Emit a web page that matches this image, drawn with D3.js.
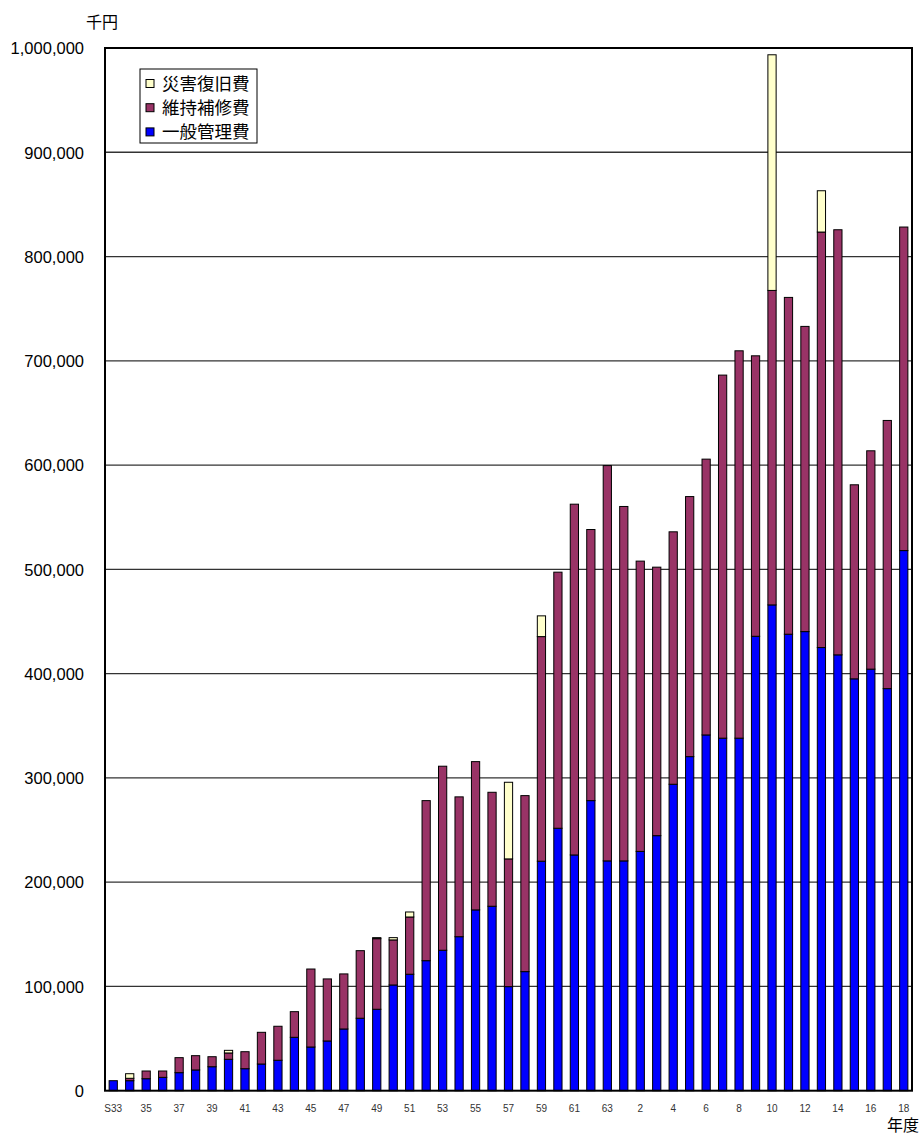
<!DOCTYPE html>
<html>
<head>
<meta charset="utf-8">
<script src="https://cdn.jsdelivr.net/npm/d3@7"></script>
<style>
  body { margin: 0; background: #fff; }
  svg { display: block; }
  .ylab { font-family: "Liberation Sans", Arial, sans-serif; font-size: 16.5px; fill: #000; }
  .xlab { font-family: "Liberation Sans", Arial, sans-serif; font-size: 10px; fill: #333; }
  .jp { font-family: "Noto Sans CJK JP", sans-serif; font-size: 16px; fill: #000; }
</style>
</head>
<body>
<svg id="chart" width="921" height="1135"></svg>
<script>
// 年度 (S33 ～ H18)
const years = ["S33","34","35","36","37","38","39","40","41","42","43","44","45","46","47","48","49","50",
  "51","52","53","54","55","56","57","58","59","60","61","62","63",
  "1","2","3","4","5","6","7","8","9","10","11","12","13","14","15","16","17","18"];

// 一般管理費 (千円)
const general = [9600,9600,11500,12800,17300,19900,23000,30100,21100,25600,29200,51200,41900,47700,59200,69500,78100,101400,
  111700,124700,134700,147700,173400,176900,99800,114200,220100,251700,226100,278200,220400,
  220400,229500,244600,293900,320400,341200,338100,338100,435800,465900,437800,440300,425000,418000,395000,404300,385600,518000];

// 維持補修費 (千円)
const maintenance = [0,2300,7400,6100,14400,13700,9600,6100,16300,30400,32600,24600,74800,59500,52800,64800,67700,43200,
  54900,153500,176500,134100,142200,109300,122500,168800,215400,245600,336400,260000,379100,
  339900,278400,257500,242100,249400,264500,348200,371500,269000,301600,323000,292700,398500,407700,186100,209400,257200,310300];

// 災害復旧費 (千円)
const disaster = [0,4400,0,0,0,0,0,2500,0,0,0,0,0,0,0,0,1000,2200,
  4800,0,0,0,0,0,73500,0,19900,0,0,0,0,
  0,0,0,0,0,0,0,0,0,226000,0,0,39600,0,0,0,0,0];

const seriesKeys = ["general", "maintenance", "disaster"];
const seriesNames = { general: "一般管理費", maintenance: "維持補修費", disaster: "災害復旧費" };
const colors = { general: "#0000ff", maintenance: "#993366", disaster: "#ffffcc" };
const yTicks = d3.range(0, 1000001, 100000);

const svg = d3.select("#chart");
const plot = { left: 105, right: 912, top: 48, bottom: 1090.7 };

const rows = years.map((y, i) => ({
  year: y,
  general: general[i],
  maintenance: maintenance[i],
  disaster: disaster[i]
}));

const x = d3.scaleBand()
  .domain(years)
  .range([plot.left, plot.right])
  .paddingInner(0.5)
  .paddingOuter(0.25);

const y = d3.scaleLinear()
  .domain([0, 1000000])
  .range([plot.bottom, plot.top]);

// gridlines
svg.append("g")
  .selectAll("line")
  .data(yTicks.slice(1, -1))
  .join("line")
  .attr("x1", plot.left)
  .attr("x2", plot.right)
  .attr("y1", (d) => y(d))
  .attr("y2", (d) => y(d))
  .attr("stroke", "#333")
  .attr("stroke-width", 1.3);

// stacked bars
const stack = d3.stack().keys(seriesKeys)(rows);

svg.append("g")
  .selectAll("g")
  .data(stack)
  .join("g")
  .attr("fill", (s) => colors[s.key])
  .selectAll("rect")
  .data((s) => s.filter((d) => d[1] - d[0] > 0))
  .join("rect")
  .attr("x", (d) => x(d.data.year))
  .attr("width", x.bandwidth())
  .attr("y", (d) => y(d[1]))
  .attr("height", (d) => y(d[0]) - y(d[1]))
  .attr("stroke", "#000")
  .attr("stroke-width", 1);

// plot frame
svg.append("rect")
  .attr("x", plot.left)
  .attr("y", plot.top)
  .attr("width", plot.right - plot.left)
  .attr("height", plot.bottom - plot.top)
  .attr("fill", "none")
  .attr("stroke", "#000")
  .attr("stroke-width", 2);

// y axis labels
const yAxis = d3.axisLeft(y)
  .tickValues(yTicks)
  .tickFormat(d3.format(","))
  .tickSize(0)
  .tickPadding(21);

svg.append("g")
  .attr("transform", `translate(${plot.left},0)`)
  .call(yAxis)
  .call((g) => g.select(".domain").remove())
  .call((g) => g.selectAll("text").attr("class", "ylab").attr("dy", "0.35em").attr("font-size", null).attr("font-family", null));

// x axis labels (every other year)
const xAxis = d3.axisBottom(x)
  .tickSize(0)
  .tickPadding(14)
  .tickFormat((d, i) => (i % 2 === 0 ? d : ""));

svg.append("g")
  .attr("transform", `translate(0,${plot.bottom})`)
  .call(xAxis)
  .call((g) => g.select(".domain").remove())
  .call((g) => g.selectAll("text").attr("class", "xlab").attr("font-size", null).attr("font-family", null));

// units
svg.append("text").attr("class", "jp").attr("x", 86).attr("y", 28).text("千円");
svg.append("text").attr("class", "jp").attr("x", 919).attr("y", 1131)
  .attr("text-anchor", "end").text("年度");

// legend
const legend = svg.append("g");
legend.append("rect")
  .attr("x", 140).attr("y", 69)
  .attr("width", 117).attr("height", 74)
  .attr("fill", "#fff").attr("stroke", "#000").attr("stroke-width", 1);

const legendKeys = ["disaster", "maintenance", "general"];
legendKeys.forEach((k, i) => {
  const cy = 84 + i * 24.2;
  legend.append("rect")
    .attr("x", 146).attr("y", cy - 4.5)
    .attr("width", 8).attr("height", 8)
    .attr("fill", colors[k]).attr("stroke", "#000").attr("stroke-width", 1);
  legend.append("text")
    .attr("class", "jp")
    .attr("x", 162).attr("y", cy + 6)
    .style("font-size", "17.5px")
    .text(seriesNames[k]);
});
</script>
</body>
</html>
